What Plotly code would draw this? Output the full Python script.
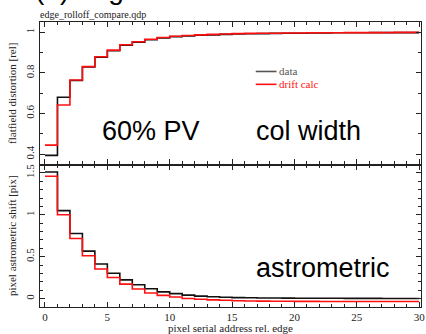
import plotly.graph_objects as go
from plotly.subplots import make_subplots

# ---- data ----
bin_edges = list(range(0, 31))  # pixel serial address rel. edge (bin left edges + final edge)

flat_data = [0.395, 0.680, 0.763, 0.829, 0.877, 0.909, 0.936, 0.951, 0.963, 0.972,
             0.978, 0.982, 0.985, 0.987, 0.989, 0.991, 0.992, 0.993, 0.994, 0.995,
             0.995, 0.996, 0.996, 0.997, 0.997, 0.997, 0.998, 0.998, 0.998, 0.998]
flat_calc = [0.445, 0.642, 0.765, 0.831, 0.879, 0.912, 0.938, 0.953, 0.965, 0.974,
             0.980, 0.984, 0.987, 0.989, 0.991, 0.993, 0.994, 0.995, 0.995, 0.996,
             0.996, 0.997, 0.997, 0.997, 0.998, 0.998, 0.998, 0.998, 0.999, 0.999]

astro_data = [1.51, 1.05, 0.776, 0.567, 0.413, 0.303, 0.224, 0.165, 0.118, 0.080,
              0.059, 0.042, 0.030, 0.022, 0.016, 0.012, 0.010, 0.008, 0.007, 0.006,
              0.005, 0.005, 0.004, 0.004, 0.003, 0.003, 0.003, 0.002, 0.002, 0.002]
astro_calc = [1.46, 1.00, 0.717, 0.511, 0.354, 0.252, 0.173, 0.114, 0.067, 0.039,
              0.020, 0.002, -0.008, -0.015, -0.020, -0.025, -0.028, -0.030, -0.031, -0.032,
              -0.033, -0.033, -0.034, -0.034, -0.034, -0.035, -0.035, -0.035, -0.035, -0.035]

x_ticks = [0, 5, 10, 15, 20, 25, 30]
series_names = ["data", "drift calc"]
title_text = "edge_rolloff_compare.qdp"
big_title = "(a) edge"

W, H = 426, 334
L, R, T, B = 40, 1, 22, 24
PW, PH = W - L - R, H - T - B

def px_x(p):
    return (p - L) / PW

def px_y(p):
    return 1 - (p - T) / PH

serif = "Liberation Serif"
sans = "Liberation Sans"

fig = make_subplots(rows=2, cols=1, shared_xaxes=True, vertical_spacing=0)

def step(vals):
    return vals + [vals[-1]]

fig.add_trace(go.Scatter(x=bin_edges, y=step(flat_data), mode="lines", line_shape="hv",
                         line=dict(color="#111111", width=1.6), showlegend=False), row=1, col=1)
fig.add_trace(go.Scatter(x=bin_edges, y=step(flat_calc), mode="lines", line_shape="hv",
                         line=dict(color="#ff1010", width=1.6), showlegend=False), row=1, col=1)
fig.add_trace(go.Scatter(x=bin_edges, y=step(astro_data), mode="lines", line_shape="hv",
                         line=dict(color="#111111", width=1.6), showlegend=False), row=2, col=1)
fig.add_trace(go.Scatter(x=bin_edges, y=step(astro_calc), mode="lines", line_shape="hv",
                         line=dict(color="#ff1010", width=1.6), showlegend=False), row=2, col=1)

axcommon = dict(showgrid=False, zeroline=False, showline=True, linecolor="#222222", linewidth=1.3,
                mirror="allticks", ticks="inside", ticklen=5, tickwidth=1, tickcolor="#222222",
                tickfont=dict(family=serif, size=11, color="#222222"), ticklabeloverflow="allow")

xrange = [-0.4, 30.15]
fig.update_xaxes(range=xrange, tickmode="array", tickvals=x_ticks,
                 ticktext=[str(v) for v in x_ticks],
                 minor=dict(dtick=1, tick0=0, ticks="inside", ticklen=3, tickcolor="#222222"),
                 **axcommon)
fig.update_xaxes(showticklabels=False, row=1, col=1)
fig.update_xaxes(title=dict(text="pixel serial address rel. edge", standoff=2,
                            font=dict(family=serif, size=11, color="#222222")), row=2, col=1)

fig.update_yaxes(**axcommon)
fig.update_yaxes(range=[0.35, 1.05], dtick=0.2, tick0=0, tickangle=-90,
                 minor=dict(dtick=0.1, ticks="inside", ticklen=3, tickcolor="#222222"),
                 title=dict(text="flatfield distortion [rel]", standoff=5,
                            font=dict(family=serif, size=11, color="#222222")), row=1, col=1)
fig.update_yaxes(range=[-0.1, 1.6], dtick=0.5, tick0=0, tickangle=-90,
                 minor=dict(dtick=0.1, ticks="inside", ticklen=3, tickcolor="#222222"),
                 title=dict(text="pixel astrometric shift [pix]", standoff=5,
                            font=dict(family=serif, size=11, color="#222222")), row=2, col=1)

annotations = [
    dict(text=big_title, xref="paper", yref="paper", x=px_x(33), y=px_y(-11),
         xanchor="left", yanchor="middle", showarrow=False,
         font=dict(family=sans, size=28, color="black")),
    dict(text=title_text, xref="paper", yref="paper", x=px_x(38), y=px_y(14),
         xanchor="left", yanchor="middle", showarrow=False,
         font=dict(family=serif, size=10, color="#222222")),
    dict(text="60% PV", xref="x", yref="y", x=8.5, y=0.516, xanchor="center", yanchor="middle",
         showarrow=False, font=dict(family=sans, size=27, color="black")),
    dict(text="col width", xref="x", yref="y", x=21.1, y=0.516, xanchor="center", yanchor="middle",
         showarrow=False, font=dict(family=sans, size=27, color="black")),
    dict(text="astrometric", xref="x2", yref="y2", x=22.3, y=0.36, xanchor="center", yanchor="middle",
         showarrow=False, font=dict(family=sans, size=27, color="black")),
]

# manual compact legend
leg_colors = ["#555555", "#ff1010"]
leg_y = [72, 85]
shapes = []
for name, col, yy in zip(series_names, leg_colors, leg_y):
    shapes.append(dict(type="line", xref="paper", yref="paper", x0=px_x(258), x1=px_x(279),
                       y0=px_y(yy), y1=px_y(yy), line=dict(color=col, width=1.6)))
    annotations.append(dict(text=name, xref="paper", yref="paper", x=px_x(279), y=px_y(yy),
                            xanchor="left", yanchor="middle", showarrow=False,
                            font=dict(family=serif, size=11, color=col)))

fig.update_layout(width=W, height=H, margin=dict(l=L, r=R, t=T, b=B),
                  paper_bgcolor="white", plot_bgcolor="white",
                  annotations=annotations, shapes=shapes, showlegend=False)

fig.write_html("out.html")
